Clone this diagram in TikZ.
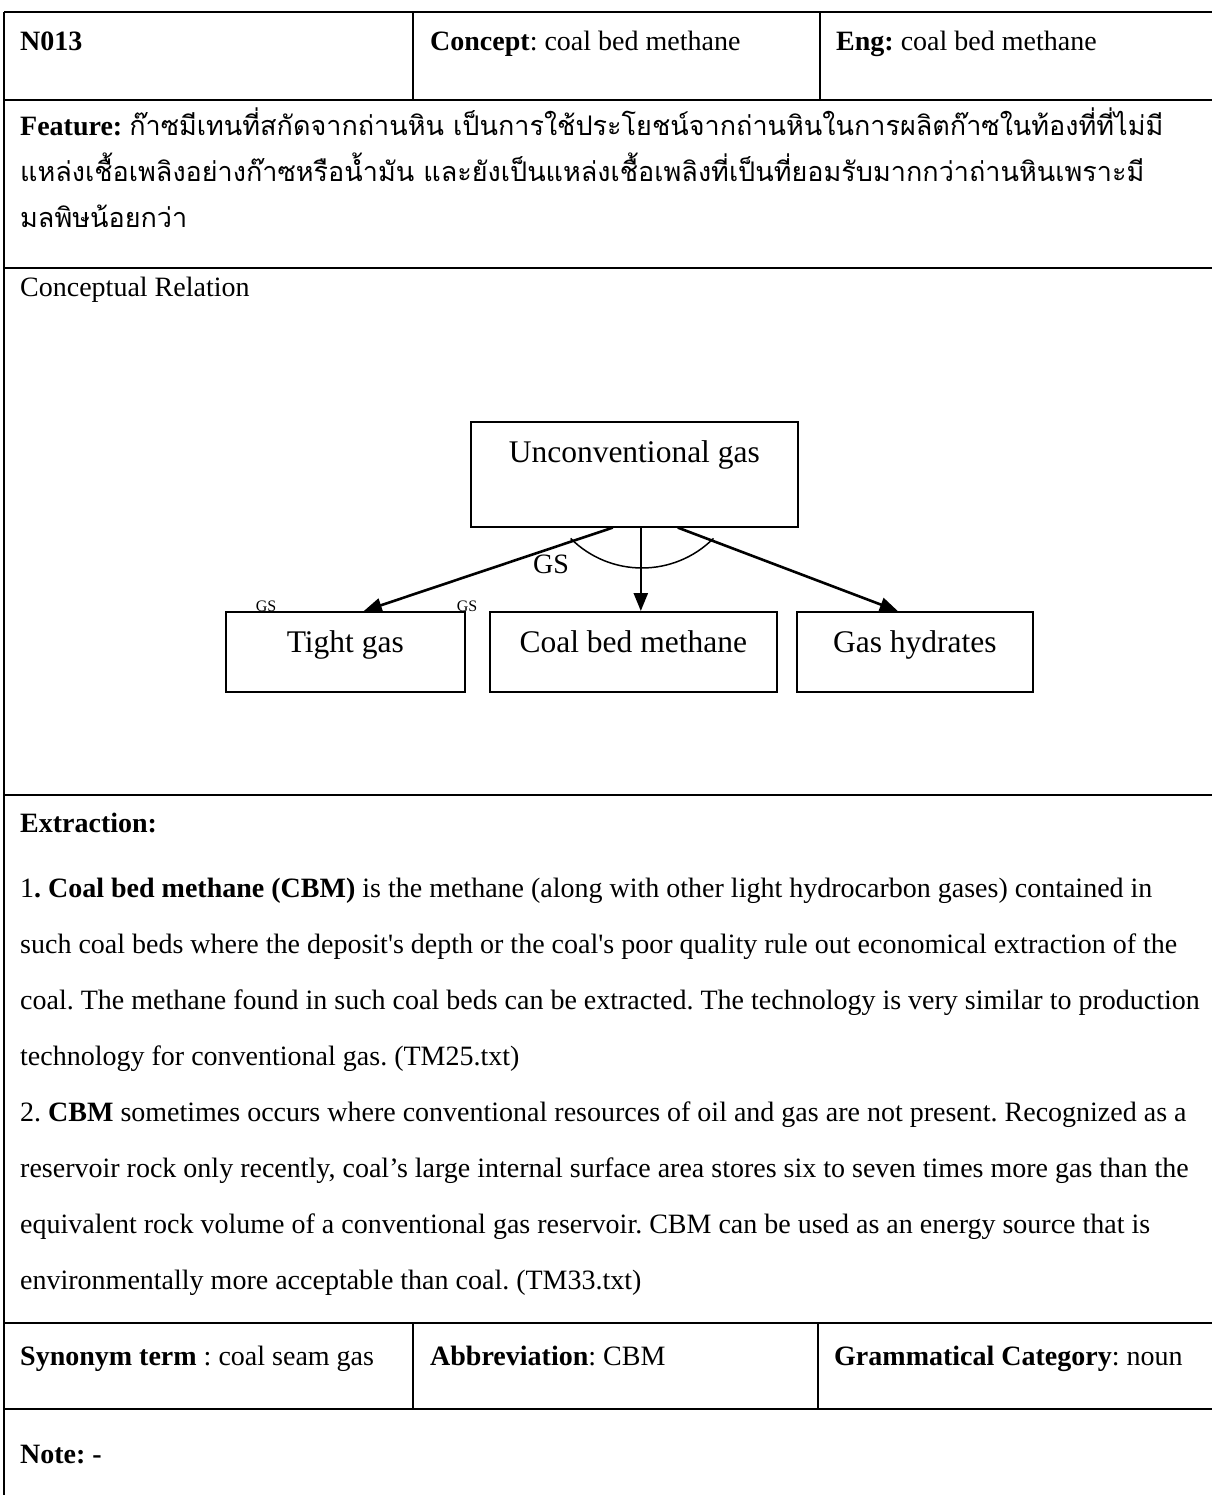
\documentclass[tikz,border=0pt]{standalone}
\usepackage{fontspec}
\setmainfont{Liberation Serif}
\newfontfamily\thaifont[Script=Thai]{Loma}
\usetikzlibrary{arrows.meta}
\frenchspacing

\begin{document}
\begin{tikzpicture}[x=1pt,y=-1pt,
  rule/.style={line width=2.4pt},
  cell/.style={anchor=base west, inner sep=0pt, font=\fontsize{28}{32}\selectfont},
  thaicell/.style={anchor=base west, inner sep=0pt, font=\fontsize{28}{32}\selectfont},
  thaitext/.style={font=\fontsize{27}{32}\thaifont},
  conceptbox/.style={draw, line width=1.6pt, inner sep=0pt, anchor=north west,
    font=\fontsize{31.5}{36}\selectfont, text height=41pt},
  rel/.style={line width=2.6pt, -{Triangle[length=18pt,width=14pt]}},
  relname/.style={inner sep=0pt, anchor=base},
]
\useasboundingbox[fill=white] (0,0) rectangle (1212,1495);

% table rules
\draw[rule] (4,12) -- (1212,12);
\draw[rule] (4,100) -- (1212,100);
\draw[rule] (4,268) -- (1212,268);
\draw[rule] (4,795) -- (1212,795);
\draw[rule] (4,1323) -- (1212,1323);
\draw[rule] (4,1409) -- (1212,1409);
\draw[rule] (4,12) -- (4,1495);
\draw[rule] (413,12) -- (413,100);
\draw[rule] (820,12) -- (820,100);
\draw[rule] (413,1323) -- (413,1409);
\draw[rule] (818,1323) -- (818,1409);

% header row
\node[cell] (id) at (20,51) {\textbf{N013}};
\node[cell] (concept) at (430,51) {\textbf{Concept}: coal bed methane};
\node[cell] (eng) at (836,51) {\textbf{Eng:} coal bed methane};

% feature
\node[thaicell] (feat1) at (20,136) {\textbf{Feature:} {\fontsize{27}{32}\thaifont ก๊าซมีเทนที่สกัดจากถ่านหิน เป็นการใช้ประโยชน์จากถ่านหินในการผลิตก๊าซในท้องที่ที่ไม่มี}};
\node[thaicell, thaitext] (feat2) at (20,182) {แหล่งเชื้อเพลิงอย่างก๊าซหรือน้ำมัน และยังเป็นแหล่งเชื้อเพลิงที่เป็นที่ยอมรับมากกว่าถ่านหินเพราะมี};
\node[thaicell, thaitext] (feat3) at (20,228) {มลพิษน้อยกว่า};

% conceptual relation
\node[cell] (crtitle) at (20,297) {Conceptual Relation};

\node[conceptbox, minimum width=327pt, text depth=64pt] (ug) at (470,421) {Unconventional gas};
\node[conceptbox, minimum width=239pt, text depth=39pt] (tight) at (225,611) {Tight gas};
\node[conceptbox, minimum width=287pt, text depth=39pt] (cbm) at (489,611) {Coal bed methane};
\node[conceptbox, minimum width=236pt, text depth=39pt] (hyd) at (796,611) {Gas hydrates};

\draw[rel] ([xshift=-21.5pt]ug.south) -- ([xshift=18.5pt]tight.north);
\draw[rel] ([xshift=6.5pt]ug.south) -- ([xshift=7.5pt]cbm.north);
\draw[rel] ([xshift=43.5pt]ug.south) -- ([xshift=-17pt]hyd.north);

\coordinate (arcstart) at (570.6,538.4);
\draw[line width=1.5pt] (arcstart) arc[start angle=135, end angle=45, radius=101];

\node[relname, font=\fontsize{28}{30}\selectfont] (gsmain) at (551,573) {GS};
\node[relname, font=\fontsize{16}{18}\selectfont] (gsleft) at (266,611) {GS};
\node[relname, font=\fontsize{16}{18}\selectfont] (gsright) at (467,611) {GS};

% extraction
\node[cell] (extitle) at (20,832) {\textbf{Extraction:}};
\node[cell] (ex1) at (20,897) {1\textbf{. Coal bed methane (CBM)} is the methane (along with other light hydrocarbon gases) contained in};
\node[cell] (ex2) at (20,953) {such coal beds where the deposit\textquotesingle s depth or the coal\textquotesingle s poor quality rule out economical extraction of the};
\node[cell] (ex3) at (20,1009) {coal. The methane found in such coal beds can be extracted. The technology is very similar to production};
\node[cell] (ex4) at (20,1065) {technology for conventional gas. (TM25.txt)};
\node[cell] (ex5) at (20,1121) {2. \textbf{CBM} sometimes occurs where conventional resources of oil and gas are not present. Recognized as a};
\node[cell] (ex6) at (20,1177) {reservoir rock only recently, coal’s large internal surface area stores six to seven times more gas than the};
\node[cell] (ex7) at (20,1233) {equivalent rock volume of a conventional gas reservoir. CBM can be used as an energy source that is};
\node[cell] (ex8) at (20,1289) {environmentally more acceptable than coal. (TM33.txt)};

% synonym row
\node[cell] (syn) at (20,1365) {\textbf{Synonym term} : coal seam gas};
\node[cell] (abbr) at (430,1365) {\textbf{Abbreviation}: CBM};
\node[cell] (gram) at (834,1365) {\textbf{Grammatical Category}: noun};

% note
\node[cell] (note) at (20,1463) {\textbf{Note: -}};
\end{tikzpicture}
\end{document}
